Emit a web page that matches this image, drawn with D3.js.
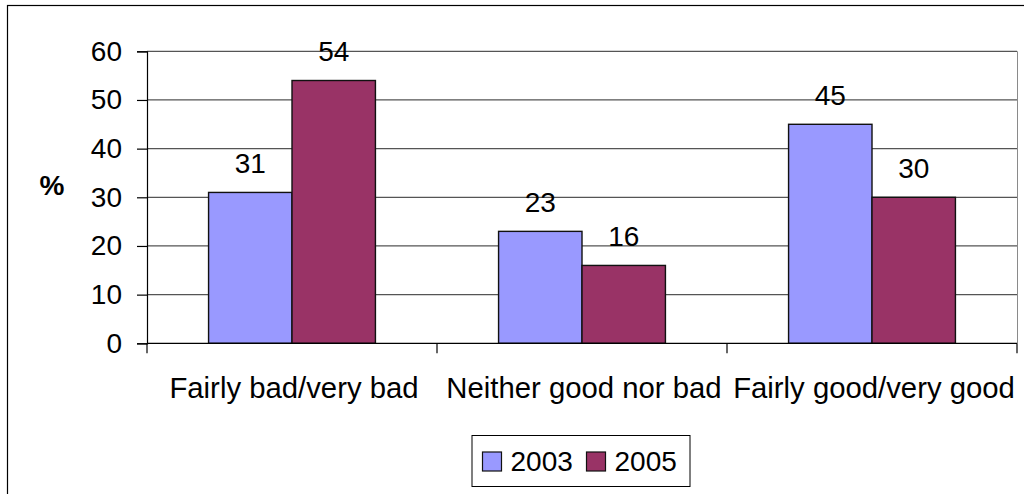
<!DOCTYPE html>
<html>
<head>
<meta charset="utf-8">
<script src="https://cdn.jsdelivr.net/npm/d3@7"></script>
<style>
  html, body { margin: 0; padding: 0; background: #fff; }
  svg { display: block; font-family: "Liberation Sans", Arial, sans-serif; }
</style>
</head>
<body>
<svg id="chart" width="1024" height="494"></svg>
<script>
// Opinion shares (%) by category, survey years 2003 and 2005
const categories = ["Fairly bad/very bad", "Neither good nor bad", "Fairly good/very good"];
const seriesNames = ["2003", "2005"];
const values2003 = [31, 23, 45];
const values2005 = [54, 16, 30];
const yTicks = [0, 10, 20, 30, 40, 50, 60];
const seriesColors = ["#9999FF", "#993366"];

const seriesValues = [values2003, values2005];
const rows = categories.map((c, i) => ({
  category: c,
  bars: seriesNames.map((s, j) => ({ series: s, value: seriesValues[j][i], color: seriesColors[j] }))
}));

const svg = d3.select("#chart");
const plot = { left: 147, right: 1017, top: 51.3, bottom: 343.3 };
const fontSize = 28;

// Outer chart frame
svg.append("rect")
  .attr("x", 7.5).attr("y", 5.5)
  .attr("width", 1030).attr("height", 500)
  .attr("fill", "#fff").attr("stroke", "#000").attr("stroke-width", 1.2);

const x0 = d3.scaleBand().domain(categories).range([plot.left, plot.right]).padding(0);
const x1 = d3.scaleBand().domain(seriesNames).range([0, x0.bandwidth()])
  .paddingInner(0).paddingOuter(0.738);
const y = d3.scaleLinear().domain([0, 60]).range([plot.bottom, plot.top]);

// Plot-area right edge
svg.append("line")
  .attr("x1", plot.right + 0.5).attr("x2", plot.right + 0.5)
  .attr("y1", plot.top).attr("y2", plot.bottom)
  .attr("stroke", "#8a8a8a").attr("stroke-width", 1);

// Horizontal gridlines
svg.append("g").selectAll("line").data(yTicks.filter(t => t > 0)).join("line")
  .attr("x1", plot.left).attr("x2", plot.right)
  .attr("y1", d => y(d)).attr("y2", d => y(d))
  .attr("stroke", "#555").attr("stroke-width", 1.2);

// Bars
const groups = svg.append("g").selectAll("g").data(rows).join("g")
  .attr("transform", d => `translate(${x0(d.category)},0)`);

groups.selectAll("rect").data(d => d.bars).join("rect")
  .attr("x", d => x1(d.series))
  .attr("y", d => y(d.value))
  .attr("width", x1.bandwidth())
  .attr("height", d => y(0) - y(d.value))
  .attr("fill", d => d.color)
  .attr("stroke", "#111").attr("stroke-width", 1.4);

// Value labels above bars
groups.selectAll("text").data(d => d.bars).join("text")
  .attr("x", d => x1(d.series) + x1.bandwidth() / 2)
  .attr("y", d => y(d.value) - 19.5)
  .attr("text-anchor", "middle")
  .attr("font-size", fontSize)
  .attr("fill", "#000")
  .text(d => d.value);

// Y axis
const yAxis = d3.axisLeft(y).tickValues(yTicks).tickSize(10).tickPadding(15);
const gy = svg.append("g").attr("transform", `translate(${plot.left},0)`).call(yAxis);
gy.select(".domain").attr("stroke", "#000").attr("stroke-width", 1.2);
gy.selectAll(".tick line").attr("stroke", "#000").attr("stroke-width", 1.2);
gy.selectAll(".tick text").attr("font-size", fontSize).attr("font-family", "Liberation Sans, Arial, sans-serif").attr("fill", "#000");

// X axis baseline with tick marks at category boundaries
svg.append("line")
  .attr("x1", plot.left).attr("x2", plot.right)
  .attr("y1", y(0)).attr("y2", y(0))
  .attr("stroke", "#000").attr("stroke-width", 1.2);
const boundaries = categories.map(c => x0(c)).concat([x0(categories[categories.length - 1]) + x0.bandwidth()]);
svg.append("g").selectAll("line").data(boundaries).join("line")
  .attr("x1", d => d).attr("x2", d => d)
  .attr("y1", y(0)).attr("y2", y(0) + 10)
  .attr("stroke", "#000").attr("stroke-width", 1.2);

// Category labels
svg.append("g").selectAll("text").data(categories).join("text")
  .attr("x", d => x0(d) + x0.bandwidth() / 2 + 2)
  .attr("y", 398)
  .attr("text-anchor", "middle")
  .attr("font-size", 29.3)
  .attr("fill", "#000")
  .text(d => d);

// Y axis title
svg.append("text")
  .attr("x", 52).attr("y", 195)
  .attr("text-anchor", "middle")
  .attr("font-size", fontSize)
  .attr("font-weight", "bold")
  .text("%");

// Legend
const legend = svg.append("g");
legend.append("rect")
  .attr("x", 472).attr("y", 435.5)
  .attr("width", 218).attr("height", 51)
  .attr("fill", "#fff").attr("stroke", "#000").attr("stroke-width", 1);
const legendX = [482.5, 586.5];
const items = legend.selectAll("g").data(seriesNames).join("g")
  .attr("transform", (d, i) => `translate(${legendX[i]},0)`);
items.append("rect")
  .attr("x", 0).attr("y", 452)
  .attr("width", 19).attr("height", 19)
  .attr("fill", (d, i) => seriesColors[i])
  .attr("stroke", "#111").attr("stroke-width", 1.2);
items.append("text")
  .attr("x", 28).attr("y", 470.5)
  .attr("font-size", fontSize)
  .attr("fill", "#000")
  .text(d => d);
</script>
</body>
</html>
